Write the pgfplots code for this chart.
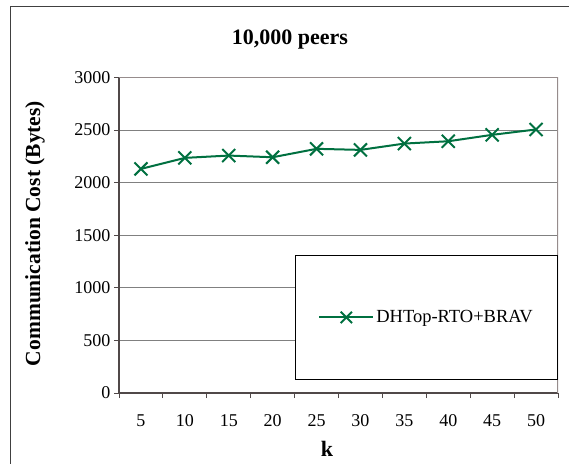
\documentclass[border=0pt]{standalone}
\usepackage{pgfplots}
\pgfplotsset{compat=1.18}
\usepackage{fontspec}
\setmainfont{Liberation Serif}
\definecolor{linegreen}{RGB}{0,112,64}
\definecolor{axisdark}{RGB}{80,72,72}
\definecolor{boxgray}{RGB}{150,140,140}
\definecolor{gridgray}{RGB}{128,128,128}
\begin{document}
\begin{tikzpicture}[x=1pt,y=1pt]
\useasboundingbox (0,0) rectangle (569,463);
% chart area frame (cut off on the right and bottom)
\draw[line width=1pt, black!75] (10,-5) -- (10,456) -- (575,456);
\node[anchor=base, font=\bfseries\fontsize{22}{24}\selectfont] at (290,418.7) {10,000 peers};
\node[rotate=90, font=\bfseries\fontsize{21.5}{24}\selectfont] at (35,229.5) {Communication Cost (Bytes)};
\node[font=\bfseries\fontsize{22}{24}\selectfont] at (327,14) {k};
\begin{axis}[
  at={(119pt,70pt)}, anchor=south west,
  scale only axis, width=439pt, height=315.6pt,
  xmin=0.5, xmax=10.5, ymin=0, ymax=3000,
  axis lines*=left,
  axis line style={axisdark, line width=1.6pt, -},
  tick align=outside, major tick length=5pt,
  tick style={axisdark, line width=1pt},
  xtick={0.5,1.5,2.5,3.5,4.5,5.5,6.5,7.5,8.5,9.5,10.5},
  xticklabels={},
  extra x ticks={1,2,3,4,5,6,7,8,9,10},
  extra x tick labels={5,10,15,20,25,30,35,40,45,50},
  extra x tick style={major tick length=0pt, grid=none,
    xticklabel style={yshift=-18pt}},
  ytick={0,500,1000,1500,2000,2500,3000},
  scaled y ticks=false,
  ymajorgrids,
  grid style={gridgray, line width=0.9pt},
  /pgf/number format/assume math mode=true,
  /pgf/number format/1000 sep={},
  tick label style={font=\fontsize{18}{20}\selectfont},
  legend style={at={(1,0.041)}, anchor=south east, draw=black, line width=0.6pt,
    fill=white, inner xsep=23pt, inner ysep=53.5pt,
    font=\fontsize{18.5}{20}\selectfont},
  legend cell align=left,
  legend image code/.code={\draw[mark repeat=2,mark phase=2,mark size=8pt] plot coordinates {(0pt,0pt) (27pt,0pt) (54pt,0pt)};},
]
\addplot[linegreen, line width=2pt, mark=x, mark size=9.2pt, mark options={solid, line width=2pt}]
  coordinates {
  (1,2130) (2,2235) (3,2257) (4,2241) (5,2321)
  (6,2311) (7,2371) (8,2393) (9,2454) (10,2505)
  };
\addlegendentry{DHTop-RTO+BRAV}
\draw[boxgray, line width=1.6pt] (rel axis cs:0,1) -- (rel axis cs:1,1) -- (rel axis cs:1,0);
\end{axis}
\end{tikzpicture}
\end{document}
